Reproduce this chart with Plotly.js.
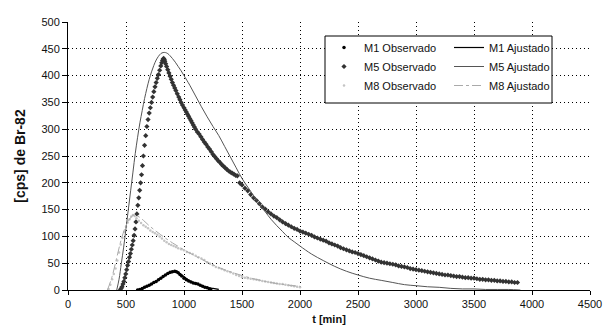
<!DOCTYPE html>
<html>
<head>
<meta charset="utf-8">
<script src="https://cdn.plot.ly/plotly-3.0.1.min.js"></script>
<style>html,body{margin:0;padding:0;background:#fff;}#chart{width:605px;height:335px;}</style>
</head>
<body>
<div id="chart"></div>
<script>
// ---- Data ----
const m1ObsT = [600,620,640,660,680,700,720,740,760,780,800,820,840,860,880,900,920,935,950,965,980,1000,1020,1040,1060,1080,1100,1120,1140,1160,1180,1200,1220,1230];
const m1ObsV = [0,1,3,5,7,9,11,14,16,19,22,25,28,31,33,34,35,34,32,29,26,22,19,17,15,13,12,11,9,7,5,4,2,1];

const m1FitT = [590,650,700,750,800,850,900,930,960,1000,1050,1100,1150,1200,1250,1300];
const m1FitV = [0,4,9,15,22,29,33,34,31,25,17,12,8,5,3,1];

const m5ObsT = [450,458,466,474,482,490,498,506,514,522,530,538,546,554,562,570,578,586,594,602,610,618,626,634,642,650,660,670,680,690,700,710,720,730,740,750,760,770,780,790,800,808,815,820,825,830,835,842,850,860,870,880,890,900,910,920,930,942,955,965,975,987,1000,1010,1020,1030,1040,1050,1060,1070,1080,1090,1100,1115,1130,1145,1160,1175,1190,1205,1220,1235,1250,1265,1280,1295,1310,1325,1340,1355,1370,1385,1400,1415,1430,1445,1460,
  1480,1500,1525,1550,1575,1600,1625,1650,1675,1700,1725,1750,1775,1800,1825,1850,1875,1900,1925,1950,1975,2000,2025,2050,2075,2100,2125,2150,2175,2200,2225,2250,2275,2300,2325,2350,2375,2400,2425,2450,2475,2500,2525,2550,2575,2600,2625,2650,2675,2700,2725,2750,2775,2800,2825,2850,2875,2900,2925,2950,2975,3000,3025,3050,3075,3100,3125,3150,3175,3200,3225,3250,3275,3300,3325,3350,3375,3400,3425,3450,3475,3500,3525,3550,3575,3600,3625,3650,3675,3700,3725,3750,3775,3800,3825,3850,3875];
const m5ObsV = [0,3,6,11,16,23,30,38,46,53,61,68,76,84,92,102,114,127,142,158,172,186,200,215,232,250,270,288,305,318,330,340,350,360,370,379,387,395,402,410,418,424,428,431,432,430,427,422,417,411,405,399,393,387,382,377,372,366,360,355,350,345,340,336,332,328,324,320,316,312,308,304,300,295,291,286,281,276,272,267,263,258,253,249,245,241,238,234,231,228,225,222,220,218,216,214,213,
  200,196,190,185,178,172,167,161,155,151,146,142,138,135,131,127,124,121,118,115,113,110,108,106,104,102,99,97,95,93,91,88,86,84,82,79,77,75,73,71,70,68,66,64,62,60,58,56,54,52,51,50,49,48,47,45,44,43,42,40,39,38,37,36,35,34,33,32,31,30,29,28,28,27,26,25,25,24,23,23,22,22,21,20,20,19,19,18,18,17,17,16,16,15,15,14,14];

const m5FitT = [420,440,460,480,500,520,540,560,580,600,620,640,660,680,700,720,740,760,780,800,820,840,860,880,900,925,950,975,1000,1050,1100,1150,1200,1250,1300,1350,1400,1450,1500,1550,1600,1650,1700,1750,1800,1850,1900,1950,2000,2100,2200,2300,2400,2500,2600,2700,2800,2900,3000,3100,3200,3300,3400,3500,3600,3700,3800,3900];
const m5FitV = [0,20,50,80,115,150,185,220,255,285,312,335,357,376,393,407,419,429,436,441,443,443,441,437,432,425,417,409,400,382,362,342,323,305,288,268,248,228,208,192,176,160,146,132,120,109,98,90,82,67,55,44,35,28,22,18,14,10,8,6,5,3,2,2,1,1,1,0];

const m8ObsT = [350,365,380,395,410,425,440,455,470,485,500,515,530,545,560,575,590,610,630,650,670,690,710,730,750,770,790,810,830,850,870,890,910,930,950,975,1000,1025,1050,1075,1100,1125,1150,1175,1200,1225,1250,1275,1300,1325,1350,1375,1400,1425,1450,1475,1500,1525,1550,1575,1600,1625,1650,1675,1700,1725,1750,1775,1800,1825,1850,1875,1900,1925,1950,1975,2000];
const m8ObsV = [2,10,20,30,40,55,70,85,97,108,118,126,132,137,140,138,134,129,125,121,118,115,111,108,106,103,100,96,92,89,86,84,82,80,78,76,74,71,69,67,64,61,59,56,52,49,46,43,41,39,37,35,33,31,28,26,24,23,22,21,20,19,18,17,16,15,14,13,12,11,11,10,9,8,7,6,5];

const m8FitT = [340,380,420,460,500,540,570,600,650,700,800,900,1000,1100,1200,1300,1400,1500,1600,1700,1800,1900,2000];
const m8FitV = [0,25,60,95,120,135,140,138,130,120,103,88,75,63,52,42,34,27,21,16,12,9,7];

const xTicks = [0,500,1000,1500,2000,2500,3000,3500,4000,4500];
const yTicks = [0,50,100,150,200,250,300,350,400,450,500];

const FONT = 'Liberation Sans, Arial, sans-serif';

const traces = [
  {x:m1ObsT, y:m1ObsV, name:'M1 Observado', mode:'markers', legend:'legend',
   marker:{symbol:'circle', size:3.5, color:'#000'}},
  {x:m5ObsT, y:m5ObsV, name:'M5 Observado', mode:'markers', legend:'legend',
   marker:{symbol:'diamond', size:4, color:'#333'}},
  {x:m8ObsT, y:m8ObsV, name:'M8 Observado', mode:'markers', legend:'legend',
   marker:{symbol:'circle', size:2.5, color:'#c4c4c4'}},
  {x:m1FitT, y:m1FitV, name:'M1 Ajustado', mode:'lines', legend:'legend2',
   line:{color:'#000', width:1.2, shape:'spline'}},
  {x:m5FitT, y:m5FitV, name:'M5 Ajustado', mode:'lines', legend:'legend2',
   line:{color:'#555', width:1, shape:'spline'}},
  {x:m8FitT, y:m8FitV, name:'M8 Ajustado', mode:'lines', legend:'legend2',
   line:{color:'#aaa', width:1, dash:'dashdot', shape:'spline'}}
];

const L = 68, R = 15, T = 22, B = 45;
const W = 605 - L - R, H = 335 - T - B;
const px = v => (v - L) / W;
const py = v => (335 - B - v) / H;

const layout = {
  width:605, height:335,
  margin:{l:L, r:R, t:T, b:B, pad:0},
  paper_bgcolor:'#fff', plot_bgcolor:'#fff',
  font:{family:FONT, size:11, color:'#111'},
  showlegend:true,
  xaxis:{
    range:[0,4500], tickvals:xTicks, ticktext:xTicks.map(String),
    showline:true, linecolor:'#000', linewidth:1,
    ticks:'outside', ticklen:4, tickcolor:'#000',
    showgrid:true, gridcolor:'#000', gridwidth:1, griddash:'1px,3px',
    zeroline:false,
    tickfont:{family:FONT, size:11, color:'#111'},
    title:{text:'<b>t [min]</b>', font:{family:FONT, size:11, color:'#111'}, standoff:6}
  },
  yaxis:{
    range:[0,500], tickvals:yTicks, ticktext:yTicks.map(String),
    showline:true, linecolor:'#000', linewidth:1,
    ticks:'outside', ticklen:5, tickcolor:'#000',
    showgrid:true, gridcolor:'#000', gridwidth:1, griddash:'1px,3px',
    zeroline:false,
    tickfont:{family:FONT, size:11, color:'#111'},
    title:{text:'<b>[cps] de Br-82</b>', font:{family:FONT, size:14, color:'#111'}, standoff:12}
  },
  legend:{x:px(324), y:py(33), xanchor:'left', yanchor:'top', bgcolor:'rgba(0,0,0,0)',
    font:{family:FONT, size:11, color:'#111'}, tracegroupgap:0, itemwidth:30},
  legend2:{x:px(449), y:py(33), xanchor:'left', yanchor:'top', bgcolor:'rgba(0,0,0,0)',
    font:{family:FONT, size:11, color:'#111'}, tracegroupgap:0, itemwidth:30},
  shapes:[{type:'rect', xref:'paper', yref:'paper', x0:px(325), x1:px(552), y0:py(103), y1:py(36),
    line:{color:'#000', width:1}, fillcolor:'#fff', layer:'above'}]
};

Plotly.newPlot('chart', traces, layout, {displayModeBar:false, staticPlot:true});
</script>
</body>
</html>
